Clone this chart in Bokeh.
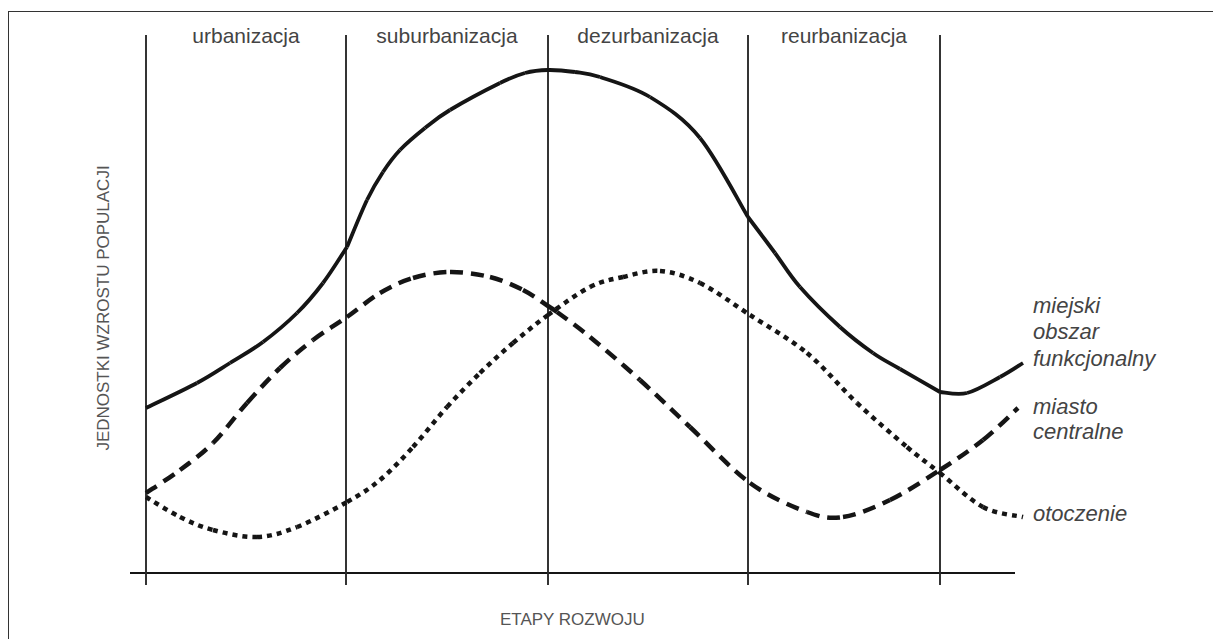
import math
from bokeh.plotting import figure
from bokeh.models import Range1d, ColumnDataSource
from bokeh.core.properties import value
from bokeh.embed import file_html
from bokeh.resources import INLINE

# ---------------- data ----------------
stages = ["urbanizacja", "suburbanizacja", "dezurbanizacja", "reurbanizacja"]
stage_bounds = [0.0, 1.0, 2.01, 3.01, 3.97]

# miejski obszar funkcjonalny (solid)
maf_x = [0.0, 0.255, 0.42, 0.585, 0.755, 0.885, 1.005, 1.105, 1.185, 1.27, 1.395, 1.52, 1.77,
         1.895, 2.01, 2.145, 2.27, 2.52, 2.77, 3.01, 3.145, 3.27, 3.47, 3.635,
         3.77, 3.97, 4.105, 4.27, 4.385]
maf_y = [16.5, 19.0, 21.0, 23.1, 26.0, 29.0, 32.6, 37.3, 40.1, 42.3, 44.5, 46.3, 49.0,
         50.0, 50.3, 50.1, 49.6, 47.6, 43.5, 35.6, 32.0, 28.6, 24.6, 22.0,
         20.4, 18.1, 18.0, 19.6, 21.0]
maf_corners = [1.005, 3.01, 3.97]

# miasto centralne (dashed)
mc_x = [0.0, 0.17, 0.335, 0.505, 0.67, 0.835, 1.005, 1.17, 1.335, 1.52, 1.72, 1.885, 2.01,
        2.055, 2.22, 2.47, 2.72, 3.02, 3.305, 3.485, 3.72, 3.97, 4.185, 4.36]
mc_y = [8.0, 10.3, 13.0, 17.0, 20.5, 23.3, 25.6, 28.0, 29.5, 30.1, 29.6, 28.3, 26.7,
        26.1, 23.6, 19.3, 14.6, 9.0, 6.1, 5.6, 7.3, 10.3, 13.3, 16.5]

# otoczenie (dotted)
ot_x = [0.0, 0.17, 0.335, 0.555, 0.755, 1.005, 1.17, 1.335, 1.505, 1.67, 1.835, 2.01, 2.22,
        2.385, 2.57, 2.77, 3.02, 3.305, 3.555, 3.805, 3.97, 4.185, 4.385]
ot_y = [7.6, 5.6, 4.3, 3.6, 4.6, 7.1, 9.3, 12.6, 16.6, 20.0, 23.0, 25.8, 28.6,
        29.6, 30.2, 29.0, 25.8, 22.0, 17.0, 12.6, 10.0, 6.6, 5.6]

maf_label = ["miejski", "obszar", "funkcjonalny"]
mc_label = ["miasto", "centralne"]
ot_label = ["otoczenie"]

x_title = "ETAPY ROZWOJU"
y_title = "JEDNOSTKI WZROSTU POPULACJI"

# ---------------- styling constants ----------------
FONT = "Liberation Sans"
X_START, X_END = -0.6825, 5.3425
Y_START, Y_END = -6.75, 56.05
Y_TOP = 53.8                       # top of stage separator lines
TICK_LEN = 1.2                     # tick length below the axis (y units)
AXIS_START, AXIS_END = -0.08, 4.345
INK = "#151515"


def smooth(xs, ys, corners=()):
    """Cubic Bezier pieces through the points (Catmull-Rom tangents)."""
    n = len(xs)
    out = dict(x0=[], y0=[], x1=[], y1=[], cx0=[], cy0=[], cx1=[], cy1=[])
    for i in range(n - 1):
        a = i - 1 if (i > 0 and xs[i] not in corners) else i
        b = i + 2 if (i + 1 < n - 1 and xs[i + 1] not in corners) else i + 1
        out["x0"].append(xs[i]); out["y0"].append(ys[i])
        out["x1"].append(xs[i + 1]); out["y1"].append(ys[i + 1])
        out["cx0"].append(xs[i] + (xs[i + 1] - xs[a]) / 6)
        out["cy0"].append(ys[i] + (ys[i + 1] - ys[a]) / 6)
        out["cx1"].append(xs[i + 1] - (xs[b] - xs[i]) / 6)
        out["cy1"].append(ys[i + 1] - (ys[b] - ys[i]) / 6)
    return ColumnDataSource(out)


p = figure(width=1205, height=628, output_backend="svg", toolbar_location=None,
           x_range=Range1d(X_START, X_END), y_range=Range1d(Y_START, Y_END),
           min_border=0)
p.outline_line_color = None
p.background_fill_color = "white"
p.border_fill_color = "white"
p.styles = {"border-top": "1.5px solid #333", "border-left": "1.5px solid #333",
            "margin-left": "8px", "margin-top": "11px"}
p.grid.visible = False
p.axis.visible = False

# horizontal axis line
p.segment(x0=[AXIS_START], y0=[0], x1=[AXIS_END], y1=[0], line_color=INK, line_width=2)
# stage separators with their ticks below the axis
p.segment(x0=stage_bounds, y0=[-TICK_LEN] * len(stage_bounds), x1=stage_bounds,
          y1=[Y_TOP] * len(stage_bounds), line_color="#2a2a2a", line_width=1.9)

# curves
p.bezier(x0="x0", y0="y0", x1="x1", y1="y1", cx0="cx0", cy0="cy0", cx1="cx1", cy1="cy1",
         source=smooth(maf_x, maf_y, maf_corners), line_color=INK, line_width=3.8)
p.bezier(x0="x0", y0="y0", x1="x1", y1="y1", cx0="cx0", cy0="cy0", cx1="cx1", cy1="cy1",
         source=smooth(mc_x, mc_y), line_color=INK, line_width=4.5, line_dash="13 8")
p.bezier(x0="x0", y0="y0", x1="x1", y1="y1", cx0="cx0", cy0="cy0", cx1="cx1", cy1="cy1",
         source=smooth(ot_x, ot_y), line_color=INK, line_width=4.5, line_dash="5 5")

# stage labels at top
mids = [(stage_bounds[i] + stage_bounds[i + 1]) / 2 for i in range(len(stages))]
p.text(x=mids, y=[Y_TOP] * len(stages), text=stages, text_align="center",
       text_baseline="alphabetic", y_offset=0, text_font=value(FONT),
       text_font_size="21px", text_color="#444")

# series labels at end of each curve
lx, ly, lt, lxo, lyo = [], [], [], [], []
for xs, ys, lines, base, step, xoff in [(maf_x, maf_y, maf_label, -58, 26.5, 10),
                                        (mc_x, mc_y, mc_label, -2, 25, 15),
                                        (ot_x, ot_y, ot_label, -4, 25, 10)]:
    for i, t in enumerate(lines):
        lx.append(xs[-1]); ly.append(ys[-1]); lt.append(t)
        lxo.append(xoff); lyo.append(base + i * step)
src = ColumnDataSource(dict(x=lx, y=ly, text=lt, xo=lxo, yo=lyo))
p.text(x="x", y="y", text="text", x_offset="xo", y_offset="yo", source=src,
       text_align="left", text_baseline="alphabetic", text_font=value(FONT),
       text_font_style="italic", text_font_size="22px", text_color="#444")

# axis titles
p.text(x=[(AXIS_START + AXIS_END) / 2], y=[-4.6], text=[x_title], text_align="center",
       text_baseline="middle", text_font=value(FONT), text_font_size="17px",
       text_color="#555")
p.text(x=[-0.215], y=[26.5], text=[y_title], angle=math.pi / 2, text_align="center",
       text_baseline="middle", text_font=value(FONT), text_font_size="17px",
       text_color="#555")

open("out.html", "w").write(file_html(p, INLINE))
